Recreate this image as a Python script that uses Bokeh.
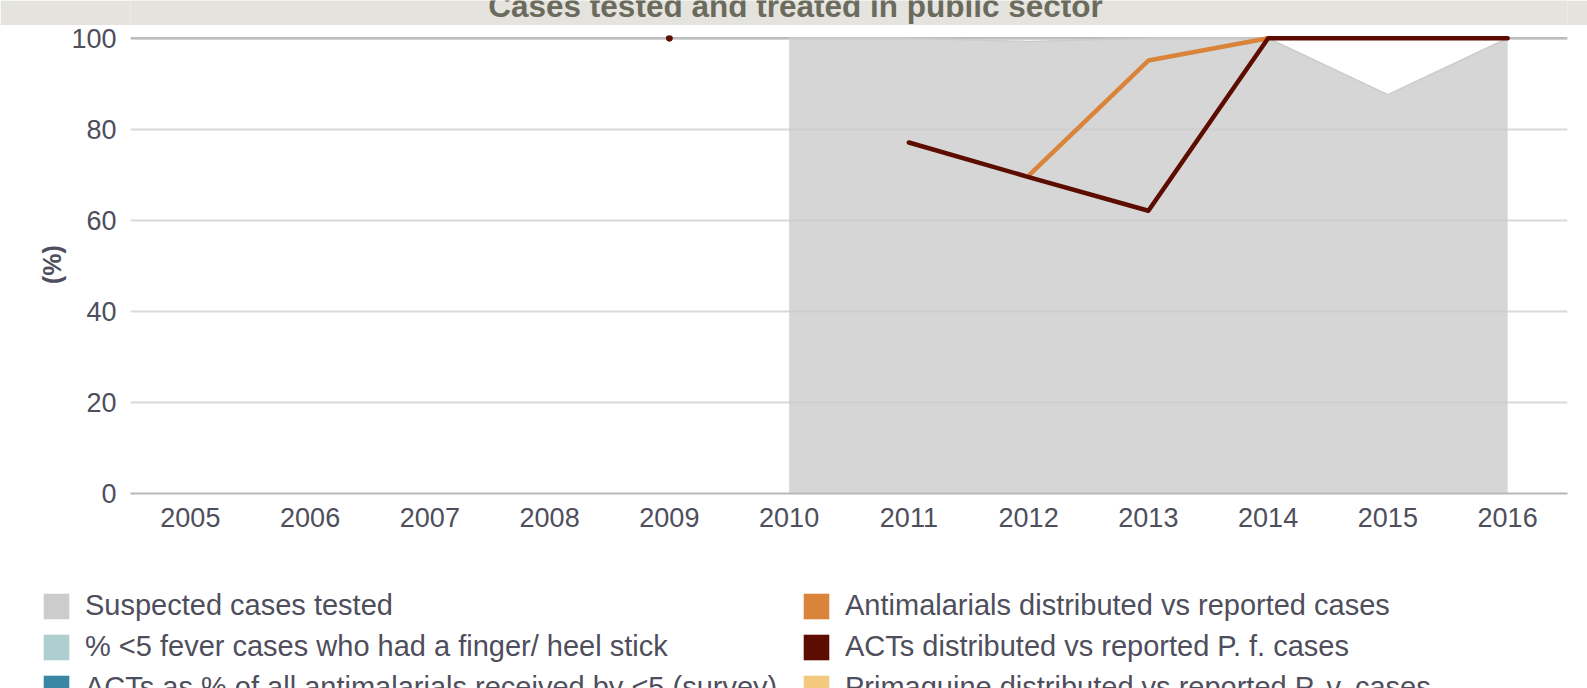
import math
from bokeh.plotting import figure
from bokeh.models import Range1d, FixedTicker, Legend, LegendItem, Span
from bokeh.layouts import column
from bokeh.core.properties import value
from bokeh.embed import file_html
from bokeh.resources import INLINE

nan = float("nan")

# ---------------- data ----------------
title_text = "Cases tested and treated in public sector"
y_axis_label = "(%)"
years = [2005, 2006, 2007, 2008, 2009, 2010, 2011, 2012, 2013, 2014, 2015, 2016]
y_ticks = [0, 20, 40, 60, 80, 100]

suspected_cases_tested = [None, None, None, None, None, 100, 100, 99.3, 100, 100, 87.6, 100]
antimalarials_vs_reported = [nan, nan, nan, nan, nan, nan, nan, 69.8, 95.1, 100, nan, nan]
acts_vs_reported_pf = [nan, nan, nan, nan, 100, nan, 77.1, 69.5, 62.1, 100, 100, 100]

legend_col1_labels = [
    "Suspected cases tested",
    "% <5 fever cases who had a finger/ heel stick",
    "ACTs as % of all antimalarials received by <5 (survey)",
]
legend_col1_colors = ["#cccccc", "#aecfd0", "#3a87a5"]
legend_col2_labels = [
    "Antimalarials distributed vs reported cases",
    "ACTs distributed vs reported P. f. cases",
    "Primaquine distributed vs reported P. v. cases",
]
legend_col2_colors = ["#d9843a", "#5c0d00", "#f3c97e"]

# ---------------- style ----------------
FONT = "Liberation Sans"
BAND = "#e4e3de"
TEXT = "#4e4e5c"
TITLE_COLOR = "#6b6b5d"
AREA = "#cccccc"
ORANGE = "#d9843a"
DARK = "#5c0d00"
W = 1587
FRAME_L, FRAME_R = 130, 1567

# ---------------- title band (frame aligned with the chart's frame) ----------------
t = figure(width=W, height=25, title=None,
           x_range=Range1d(FRAME_L, FRAME_R), y_range=Range1d(0, 25),
           toolbar_location=None, output_backend="svg",
           x_axis_location=None, y_axis_location=None,
           min_border_left=FRAME_L, min_border_right=W - FRAME_R,
           min_border_top=0, min_border_bottom=0,
           outline_line_color=None, background_fill_color=BAND, border_fill_color=BAND)
t.grid.visible = False
t.text(x=[795], y=[0], y_offset=-20, text=[title_text], text_align="center",
       text_baseline="alphabetic",
       text_font=value(FONT), text_font_style="bold", text_font_size="31.5px",
       text_color=TITLE_COLOR)

# ---------------- main chart ----------------
p = figure(width=W, height=535, title=None,
           x_range=Range1d(2004.5, 2016.5), y_range=Range1d(0, 100.6),
           toolbar_location=None, output_backend="svg",
           min_border_left=FRAME_L, min_border_right=W - FRAME_R,
           min_border_top=10, min_border_bottom=67,
           outline_line_color=None, background_fill_color="white", border_fill_color="white")

p.xgrid.visible = False
p.ygrid.ticker = FixedTicker(ticks=y_ticks)
p.ygrid.grid_line_color = "#d9d9d9"
p.ygrid.grid_line_width = 2

top_line = Span(location=y_ticks[-1], dimension="width", line_color="#bdbdbd",
                line_width=2.5, level="underlay")
p.add_layout(top_line)

# area: suspected cases tested
ax = [y for y, v in zip(years, suspected_cases_tested) if v is not None]
ay = [v for v in suspected_cases_tested if v is not None]
p.varea(x=ax, y1=0, y2=ay, fill_color=AREA, fill_alpha=0.8)
p.line(ax, ay, line_color=AREA, line_width=1.5)

# lines
p.line(years, antimalarials_vs_reported, line_color=ORANGE, line_width=4.5, line_join="round")
p.line(years, acts_vs_reported_pf, line_color=DARK, line_width=4.5, line_join="round",
       line_cap="round")


def isolated(series):
    xs, ys = [], []
    for i, v in enumerate(series):
        if math.isnan(v):
            continue
        prev_nan = i == 0 or math.isnan(series[i - 1])
        next_nan = i == len(series) - 1 or math.isnan(series[i + 1])
        if prev_nan and next_nan:
            xs.append(years[i])
            ys.append(v)
    return xs, ys


ix, iy = isolated(acts_vs_reported_pf)
p.scatter(ix, iy, size=6, fill_color=DARK, line_color=DARK)

# axes
p.xaxis.ticker = FixedTicker(ticks=years)
p.xaxis.axis_line_color = "#b8b8b8"
p.xaxis.axis_line_width = 2
p.xaxis.major_tick_line_color = None
p.xaxis.minor_tick_line_color = None
p.xaxis.major_label_standoff = 8
p.xaxis.major_label_text_font = FONT
p.xaxis.major_label_text_font_size = "27px"
p.xaxis.major_label_text_color = TEXT

p.yaxis.ticker = FixedTicker(ticks=y_ticks)
p.yaxis.axis_line_color = None
p.yaxis.major_tick_line_color = None
p.yaxis.minor_tick_line_color = None
p.yaxis.major_label_standoff = 8
p.yaxis.major_label_text_font = FONT
p.yaxis.major_label_text_font_size = "27px"
p.yaxis.major_label_text_color = TEXT
p.yaxis.axis_label = y_axis_label
p.yaxis.axis_label_text_font = FONT
p.yaxis.axis_label_text_font_style = "bold"
p.yaxis.axis_label_text_font_size = "25px"
p.yaxis.axis_label_text_color = TEXT
p.yaxis.axis_label_standoff = 2

# ---------------- legend (two columns, own figure spanning the page) ----------------
lg = figure(width=W, height=128, title=None,
            x_range=Range1d(0, W), y_range=Range1d(0, 128),
            toolbar_location=None, output_backend="svg",
            x_axis_location=None, y_axis_location=None, min_border=0,
            outline_line_color=None, background_fill_color="white", border_fill_color="white")
lg.grid.visible = False


def make_legend(labels, colors, loc):
    items = []
    for lab, col in zip(labels, colors):
        r = lg.quad(left=[nan], right=[nan], bottom=[nan], top=[nan],
                    fill_color=col, line_color=None)
        items.append(LegendItem(label=lab, renderers=[r]))
    leg = Legend(items=items, location=loc, orientation="vertical",
                 glyph_width=32, glyph_height=32, label_height=32, label_standoff=13,
                 spacing=8, padding=0, margin=0,
                 border_line_color=None, background_fill_alpha=0,
                 label_text_font=FONT, label_text_font_size="29px",
                 label_text_color=TEXT)
    lg.add_layout(leg, "center")


make_legend(legend_col1_labels, legend_col1_colors, (40, -16))
make_legend(legend_col2_labels, legend_col2_colors, (800, -16))

layout = column(column(t, p, spacing=0), lg, spacing=0)
open("out.html", "w").write(file_html(layout, INLINE))
